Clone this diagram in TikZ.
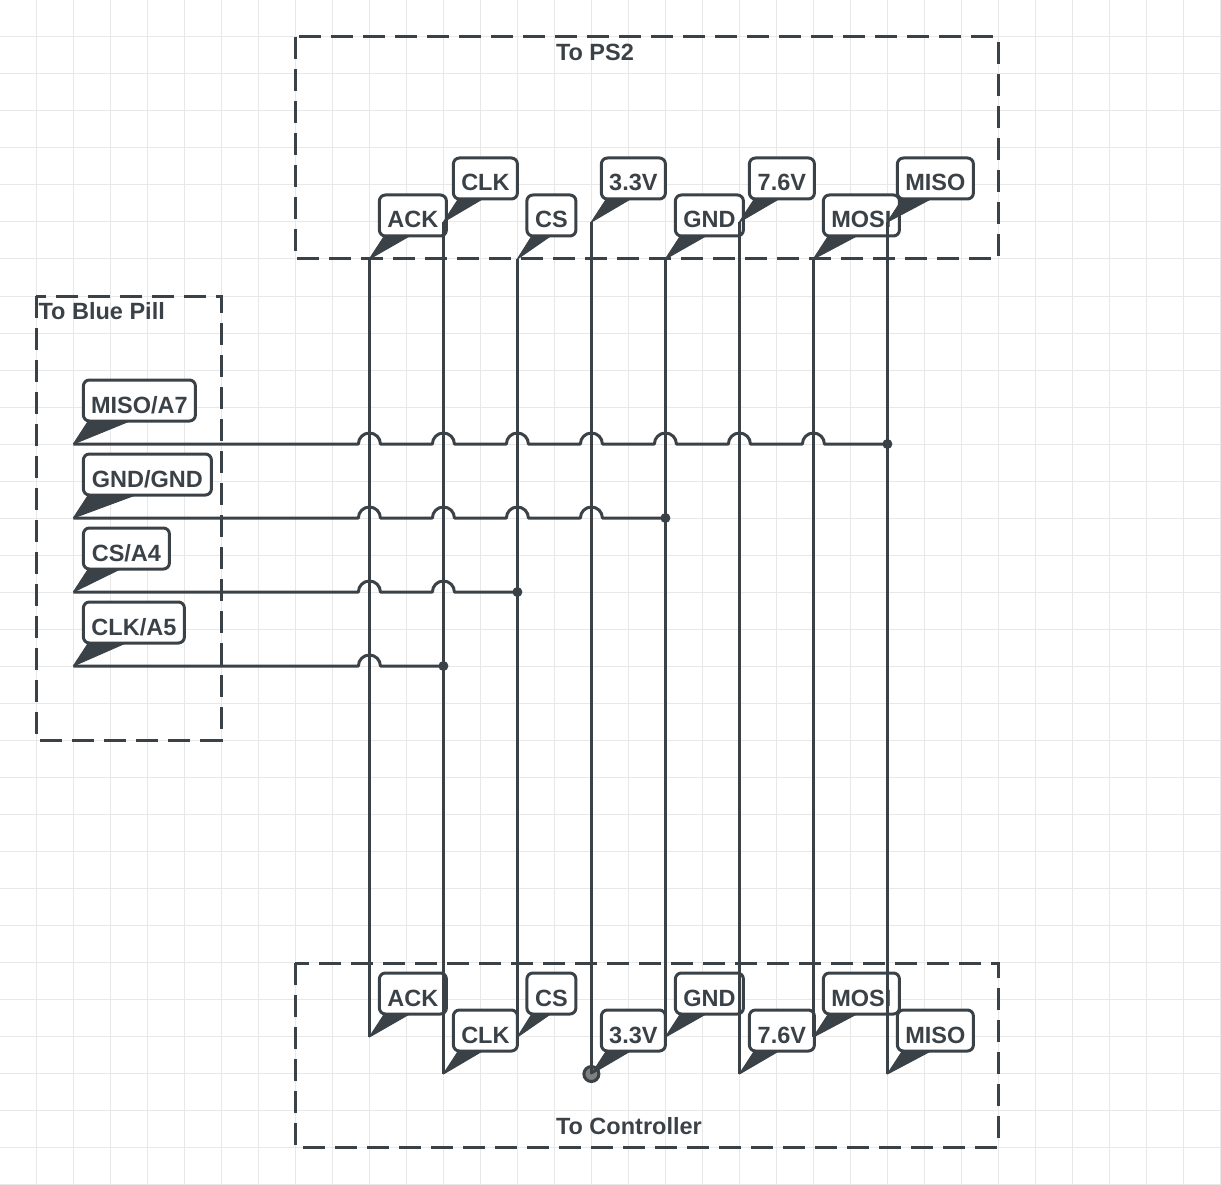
\documentclass[tikz,border=0pt]{standalone}
\usepackage{fontspec}
\setmainfont{Liberation Sans}
\definecolor{ink}{HTML}{3A4248}
\definecolor{gridc}{HTML}{E8E8E8}
\definecolor{portc}{HTML}{808080}
\tikzset{
  gridline/.style={draw=gridc,line width=1pt},
  box/.style={draw=ink,line width=3pt,dash pattern=on 22pt off 10pt},
  wire/.style={draw=ink,line width=3pt,line join=round},
  lab/.style={font=\fontsize{23.5}{26}\selectfont\bfseries,text=ink,anchor=base west,inner sep=0pt},
  tag/.style={draw=ink,fill=white,line width=3pt,rounded corners=6pt,anchor=north west,outer sep=0pt,
    font=\fontsize{23.5}{26}\selectfont\bfseries,text=ink,inner xsep=0pt,inner ysep=0pt,
    text height=33pt,text depth=8pt,align=center},
  tail/.style={fill=ink,draw=ink,line width=1pt,line join=round},
  joint/.style={circle,fill=ink,inner sep=0pt,minimum size=10pt},
  port/.style={circle,draw=ink,fill=portc,line width=3pt,inner sep=0pt,minimum size=15pt}
}
% name, left x, top y, width, text, tip x, tip y
\newcommand{\calloutnode}[7]{%
  \node[tag,minimum width=#4pt] (#1) at (#2,#3) {#5};
  \coordinate (#1tip) at (#6,#7);
  \pgfmathsetmacro{\bw}{0.36*#4+1}
  \fill[tail] (#1tip) -- ($(#1.south west)+(5,0)$) -- ($(#1.south west)+(5+\bw,0)$) -- cycle;
}
\usetikzlibrary{calc}
\begin{document}
\begin{tikzpicture}[x=1pt,y=-1pt]
\useasboundingbox (0.6,0) rectangle (1221.6,1185);
\foreach \i in {0,...,33} \draw[gridline] (37*\i,0) -- (37*\i,1185);
\foreach \i in {0,...,32} \draw[gridline] (0,37*\i) -- (1222,37*\i);

\draw[box] (296,37) rectangle (999,259);
\draw[box] (37,296) rectangle (222,740);
\draw[box] (296,963) rectangle (999,1147);

\node[lab] (tps) at (556.4,60.5) {To PS2};
\node[lab] (tbp) at (39,319) {To Blue Pill};
\node[lab] (tct) at (556.4,1134) {To Controller};

% top
\calloutnode{ackT}{380}{195}{67}{ACK}{370}{259}
\calloutnode{clkT}{454}{158}{64}{CLK}{444}{222}
\calloutnode{csT}{527.5}{195}{49}{CS}{518}{259}
\calloutnode{vaT}{602}{158}{64}{3.3V}{592}{222}
\calloutnode{gndT}{676}{195}{68}{GND}{666}{259}
\calloutnode{vbT}{750}{158}{65}{7.6V}{740}{222}
\calloutnode{mosiT}{824}{195}{76}{MOSI}{814}{259}
\calloutnode{misoT}{898}{158}{76}{MISO}{888}{222}
% bottom
\calloutnode{ackB}{380}{973}{67}{ACK}{370}{1037}
\calloutnode{clkB}{454}{1010}{64}{CLK}{444}{1074}
\calloutnode{csB}{527.5}{973}{49}{CS}{518}{1037}
\calloutnode{gndB}{676}{973}{68}{GND}{666}{1037}
\calloutnode{vbB}{750}{1010}{65}{7.6V}{740}{1074}
\calloutnode{mosiB}{824}{973}{76}{MOSI}{814}{1037}
\calloutnode{misoB}{898}{1010}{76}{MISO}{888}{1074}
\node[port] (vaPort) at (592,1074) {};
\calloutnode{vaB}{602}{1010}{64}{3.3V}{592}{1074}
% left
\calloutnode{misoL}{84}{380}{112}{MISO/A7}{74}{444}
\calloutnode{gndL}{84}{454}{128}{GND/GND}{74}{518}
\calloutnode{csL}{84}{528}{86}{CS/A4}{74}{592}
\calloutnode{clkL}{84}{602}{101}{CLK/A5}{74}{666}

% vertical wires
\foreach \n in {ack,clk,cs,va,gnd,vb,mosi,miso}
  \draw[wire] (\n Ttip) -- (\n Btip);

% joints
\node[joint] (jMiso) at (888,444) {};
\node[joint] (jGnd) at (666,518) {};
\node[joint] (jCs) at (518,592) {};
\node[joint] (jClk) at (444,666) {};

% horizontal wires with jumps
\draw[wire] (misoLtip) foreach \x in {370,444,518,592,666,740,814} { -- (\x-11,444) arc[start angle=180,end angle=360,radius=11] } -- (jMiso.center);
\draw[wire] (gndLtip) foreach \x in {370,444,518,592} { -- (\x-11,518) arc[start angle=180,end angle=360,radius=11] } -- (jGnd.center);
\draw[wire] (csLtip) foreach \x in {370,444} { -- (\x-11,592) arc[start angle=180,end angle=360,radius=11] } -- (jCs.center);
\draw[wire] (clkLtip) foreach \x in {370} { -- (\x-11,666) arc[start angle=180,end angle=360,radius=11] } -- (jClk.center);
\end{tikzpicture}
\end{document}
